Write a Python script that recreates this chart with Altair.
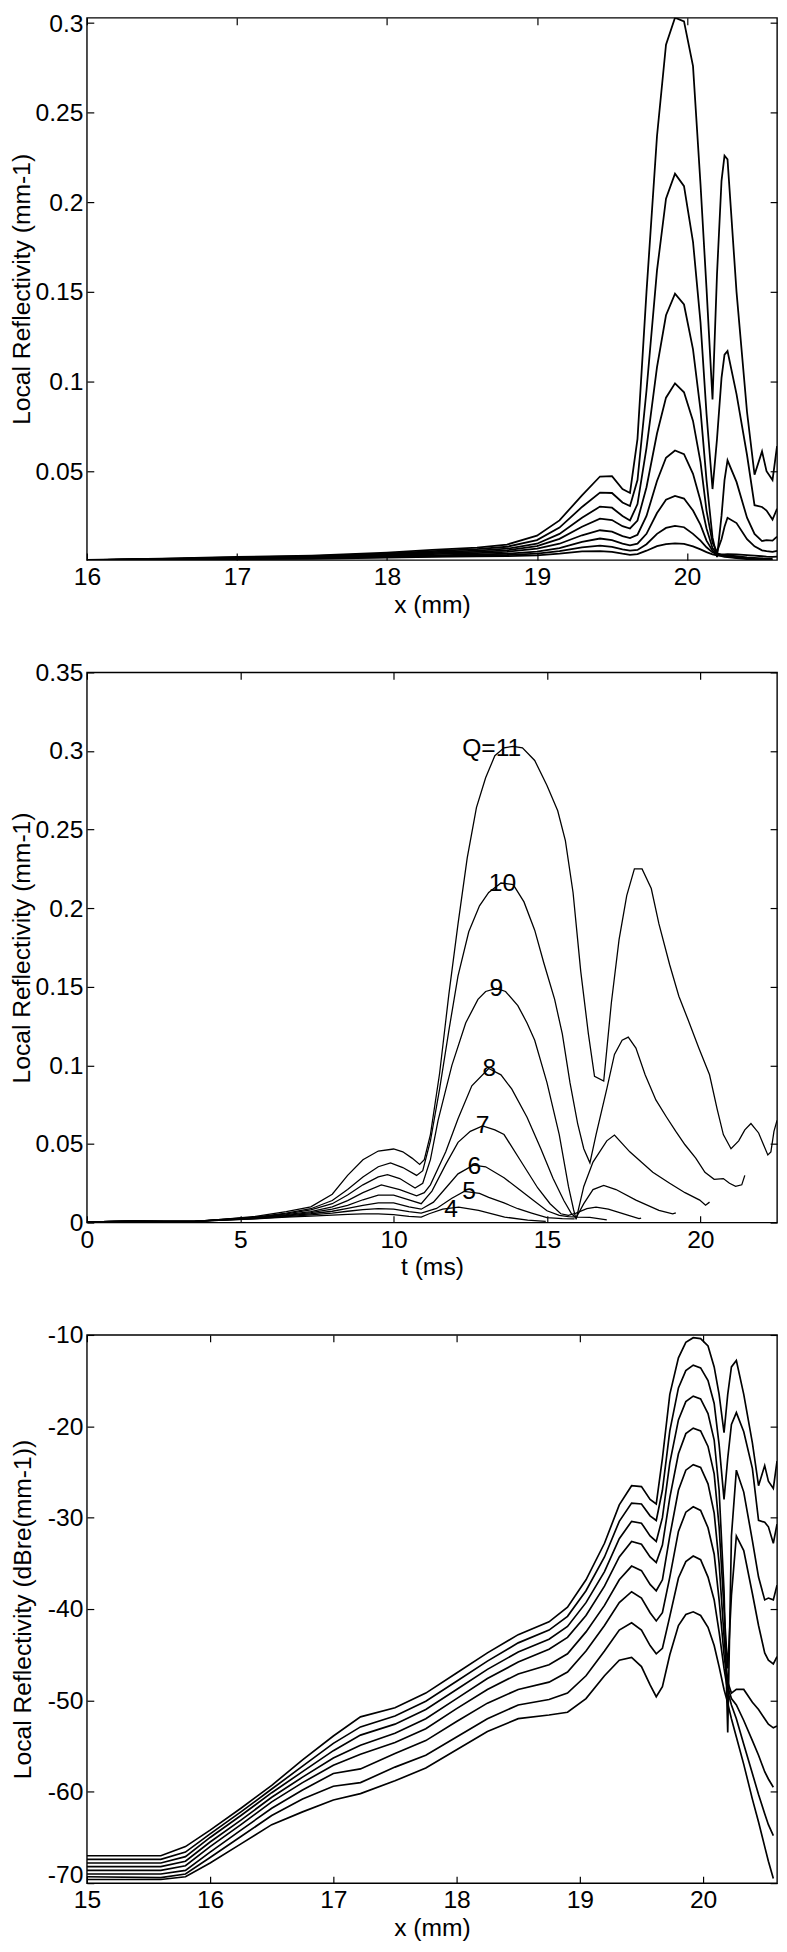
import altair as alt
import pandas as pd

FONT = "Liberation Sans"
FS = 25

# ---------------- Panel 1: linear reflectivity vs x (mm) ----------------
x1 = [16.0, 16.5, 17.0, 17.5, 18.0, 18.3, 18.6, 18.8, 19.0, 19.15, 19.3, 19.42, 19.5, 19.57,
      19.62, 19.67, 19.73, 19.8, 19.86, 19.92, 19.98, 20.04, 20.09, 20.13, 20.17, 20.2, 20.23,
      20.25, 20.27, 20.33, 20.4, 20.45, 20.5, 20.53, 20.57, 20.6]
p1_q11 = [0.0005, 0.0011, 0.0021, 0.0029, 0.0045, 0.0060, 0.0073, 0.0090, 0.0140, 0.0225, 0.0365,
          0.0470, 0.0472, 0.0400, 0.0378, 0.0680, 0.150, 0.237, 0.288, 0.303, 0.301, 0.276, 0.210,
          0.152, 0.090, 0.160, 0.212, 0.226, 0.224, 0.150, 0.083, 0.048, 0.061, 0.050, 0.045, 0.064]
p1_q10 = [0.0004, 0.0010, 0.0018, 0.0026, 0.0040, 0.0054, 0.0065, 0.0078, 0.0115, 0.0185, 0.0300,
          0.0380, 0.0378, 0.0325, 0.0305, 0.0450, 0.095, 0.162, 0.202, 0.216, 0.209, 0.178, 0.133,
          0.082, 0.040, 0.068, 0.102, 0.115, 0.117, 0.093, 0.059, 0.031, 0.030, 0.028, 0.023, 0.029]
p1_q9 = [0.0004, 0.0009, 0.0016, 0.0023, 0.0036, 0.0048, 0.0057, 0.0067, 0.0095, 0.0150, 0.0240,
         0.0302, 0.0296, 0.0250, 0.0225, 0.0316, 0.063, 0.108, 0.137, 0.149, 0.143, 0.118, 0.084,
         0.045, 0.013, 0.002, 0.025, 0.045, 0.056, 0.044, 0.024, 0.015, 0.011, 0.0115, 0.0112, 0.0135]
p1_q8 = [0.0004, 0.0009, 0.0015, 0.0021, 0.0032, 0.0043, 0.0050, 0.0058, 0.0081, 0.0122, 0.0190,
         0.0235, 0.0227, 0.0193, 0.0180, 0.0224, 0.041, 0.071, 0.091, 0.099, 0.094, 0.078, 0.055,
         0.028, 0.010, 0.005, 0.012, 0.019, 0.024, 0.021, 0.012, 0.008, 0.0058, 0.0053, 0.005, 0.0055]
p1_q7 = [0.0003, 0.0009, 0.0014, 0.0019, 0.0029, 0.0037, 0.0043, 0.0050, 0.0067, 0.0095, 0.0142,
         0.0170, 0.0162, 0.0137, 0.0126, 0.0145, 0.025, 0.0445, 0.0575, 0.0615, 0.0595, 0.0485,
         0.0335, 0.018, 0.007, 0.004, 0.0035, 0.0036, 0.0037, 0.0036, 0.0031, 0.0028, 0.0025,
         0.0023, 0.0022, 0.0023]
p1_q6 = [0.0003, 0.0008, 0.0013, 0.0016, 0.0024, 0.0030, 0.0035, 0.0039, 0.0051, 0.0070, 0.0105,
         0.0124, 0.0115, 0.0096, 0.0086, 0.0095, 0.015, 0.0266, 0.0340, 0.0362, 0.0347, 0.0280,
         0.0200, 0.0112, 0.0056, 0.0038, 0.0032, 0.0030, 0.0030, 0.0025, 0.0019, 0.0016, 0.0013,
         0.0012, 0.0011, None]
p1_q5 = [0.0003, 0.0007, 0.0011, 0.0014, 0.0020, 0.0025, 0.0030, 0.0032, 0.0040, 0.0053, 0.0075,
         0.0084, 0.0077, 0.0063, 0.0057, 0.0060, 0.0092, 0.0150, 0.0183, 0.0195, 0.0187, 0.0150,
         0.0112, 0.0075, 0.0047, 0.0035, 0.0030, 0.0027, 0.0025, 0.0018, 0.0013, 0.0010, 0.0008,
         0.0007, 0.0006, None]
p1_q4 = [0.0003, 0.0006, 0.0009, 0.0011, 0.0017, 0.0021, 0.0025, 0.0026, 0.0030, 0.0039, 0.0052,
         0.0054, 0.0049, 0.0039, 0.0033, 0.0037, 0.0056, 0.0081, 0.0093, 0.0097, 0.0094, 0.0080,
         0.0063, 0.0048, 0.0036, 0.0030, 0.0025, 0.0022, 0.0020, 0.0014, 0.0009, 0.0007, 0.0005,
         0.0004, 0.0003, None]

# ---------------- Panel 2: linear reflectivity vs t (ms), one time base per curve ----------------
p2_t11 = [0, 1.5, 2.5, 3.5, 4.5, 5.5, 6.5, 7.3, 8.0, 8.5, 9.0, 9.5, 10.0, 10.3, 10.6, 10.85, 11.0,
          11.2, 11.5, 11.8, 12.1, 12.4, 12.7, 13.0, 13.3, 13.6, 13.9, 14.2, 14.6, 15.0, 15.35, 15.6,
          15.85, 16.1, 16.35, 16.55, 16.85, 17.1, 17.35, 17.6, 17.85, 18.1, 18.4, 18.65, 19.0, 19.3,
          19.6, 19.95, 20.3, 20.55, 20.75, 21.0, 21.25, 21.45, 21.65, 21.9, 22.05, 22.2, 22.3, 22.4, 22.5]
p2_v11 = [0.0005, 0.0009, 0.0007, 0.0008, 0.0022, 0.004, 0.007, 0.010, 0.018, 0.030, 0.040, 0.0455,
          0.0468, 0.045, 0.041, 0.037, 0.040, 0.056, 0.095, 0.145, 0.19, 0.232, 0.264, 0.283, 0.297,
          0.302, 0.303, 0.302, 0.294, 0.278, 0.262, 0.243, 0.21, 0.16, 0.12, 0.093, 0.090, 0.14, 0.18,
          0.208, 0.225, 0.225, 0.2125, 0.19, 0.164, 0.144, 0.129, 0.111, 0.094, 0.072, 0.056, 0.047,
          0.052, 0.059, 0.063, 0.057, 0.050, 0.043, 0.045, 0.058, 0.065]
p2_t10 = [0, 1.5, 2.5, 3.5, 4.5, 5.5, 6.5, 7.3, 8.0, 8.5, 9.0, 9.5, 9.9, 10.3, 10.75, 10.95, 11.2,
          11.5, 11.8, 12.1, 12.45, 12.8, 13.1, 13.5, 13.9, 14.25, 14.6, 14.9, 15.25, 15.5, 15.75, 16.0,
          16.2, 16.4, 16.6, 16.95, 17.2, 17.45, 17.65, 17.9, 18.2, 18.55, 18.9, 19.2, 19.5, 19.85,
          20.15, 20.45, 20.75, 20.95, 21.15, 21.35, 21.45]
p2_v10 = [0.0005, 0.0009, 0.0007, 0.0008, 0.0021, 0.0035, 0.006, 0.0088, 0.014, 0.021, 0.029, 0.0355,
          0.038, 0.035, 0.030, 0.033, 0.052, 0.085, 0.122, 0.157, 0.185, 0.2015, 0.21, 0.216, 0.215,
          0.204, 0.186, 0.165, 0.142, 0.12, 0.089, 0.063, 0.047, 0.038, 0.056, 0.085, 0.107, 0.116,
          0.118, 0.111, 0.094, 0.078, 0.067, 0.058, 0.0495, 0.041, 0.032, 0.0275, 0.028, 0.025, 0.023,
          0.024, 0.030]
p2_t9 = [0, 1.5, 2.5, 3.5, 4.5, 5.5, 6.5, 7.3, 8.0, 8.5, 9.0, 9.5, 9.8, 10.2, 10.7, 10.95, 11.2, 11.45,
         11.9, 12.35, 12.75, 13.0, 13.35, 13.65, 14.05, 14.35, 14.6, 15.0, 15.4, 15.7, 15.87, 15.95,
         16.2, 16.5, 16.95, 17.2, 17.7, 18.45, 19.0, 19.5, 19.98, 20.17, 20.3]
p2_v9 = [0.0005, 0.0009, 0.0007, 0.0008, 0.002, 0.0033, 0.0055, 0.008, 0.012, 0.0175, 0.024, 0.029,
         0.0305, 0.028, 0.022, 0.025, 0.040, 0.065, 0.100, 0.127, 0.142, 0.147, 0.149, 0.147, 0.138,
         0.127, 0.116, 0.089, 0.056, 0.023, 0.008, 0.002, 0.023, 0.0385, 0.052, 0.0557, 0.045, 0.032,
         0.025, 0.019, 0.0143, 0.011, 0.013]
p2_t8 = [0, 1.5, 2.5, 3.5, 4.5, 5.5, 6.5, 7.3, 8.0, 8.5, 9.0, 9.6, 10.2, 10.75, 11.0, 11.2, 11.7, 12.1,
         12.55, 13.1, 13.5, 13.85, 14.35, 14.8, 15.2, 15.55, 15.8, 15.95, 16.2, 16.5, 16.85, 17.25,
         17.9, 18.65, 19.1, 19.2]
p2_v8 = [0.0005, 0.0009, 0.0007, 0.0008, 0.0019, 0.0031, 0.005, 0.007, 0.010, 0.014, 0.019, 0.024,
         0.021, 0.017, 0.019, 0.024, 0.045, 0.066, 0.087, 0.098, 0.094, 0.085, 0.067, 0.047, 0.028,
         0.014, 0.0055, 0.003, 0.012, 0.021, 0.0236, 0.021, 0.0143, 0.0077, 0.0055, 0.0062]
p2_t7 = [0, 1.5, 2.5, 3.5, 4.5, 5.5, 6.5, 7.3, 8.0, 8.5, 9.0, 9.5, 10.0, 10.5, 10.9, 11.25, 11.7,
         12.1, 12.5, 12.9, 13.3, 13.6, 14.15, 14.7, 15.1, 15.45, 15.7, 15.95, 16.3, 16.6, 17.0, 17.5,
         18.0, 18.07]
p2_v7 = [0.0005, 0.0009, 0.0007, 0.0008, 0.0018, 0.0029, 0.0046, 0.0063, 0.0085, 0.011, 0.0145,
         0.0175, 0.0175, 0.0145, 0.012, 0.020, 0.037, 0.051, 0.058, 0.0615, 0.059, 0.056, 0.039,
         0.022, 0.012, 0.0056, 0.0046, 0.006, 0.0088, 0.0098, 0.0085, 0.0055, 0.0025, 0.0028]
p2_t6 = [0, 1.5, 2.5, 3.5, 4.5, 5.5, 6.5, 7.3, 8.0, 8.5, 9.0, 9.5, 10.0, 10.5, 10.9, 11.3, 11.7, 12.1,
         12.6, 13.0, 13.6, 14.1, 14.5, 15.0, 15.4, 15.7, 16.0, 16.4, 16.95]
p2_v6 = [0.0005, 0.0009, 0.0007, 0.0008, 0.0017, 0.0027, 0.0042, 0.0056, 0.0072, 0.009, 0.011,
         0.0125, 0.0125, 0.010, 0.0085, 0.013, 0.022, 0.031, 0.0365, 0.0355, 0.0285, 0.021, 0.015,
         0.0075, 0.0046, 0.0038, 0.0035, 0.0033, 0.0017]
p2_t5 = [0, 1.5, 2.5, 3.5, 4.5, 5.5, 6.5, 7.3, 8.0, 8.5, 9.0, 9.5, 10.0, 10.5, 10.9, 11.4, 11.9, 12.3,
         12.8, 13.1, 13.6, 14.05, 14.5, 15.0, 15.5, 15.9]
p2_v5 = [0.0005, 0.0009, 0.0007, 0.0008, 0.0016, 0.0025, 0.0038, 0.0049, 0.006, 0.0072, 0.0082,
         0.0088, 0.0085, 0.007, 0.006, 0.009, 0.0155, 0.0198, 0.0185, 0.016, 0.0125, 0.0088, 0.006,
         0.0031, 0.0025, 0.0024]
p2_t4 = [0, 1.5, 2.5, 3.5, 4.5, 5.5, 6.5, 7.3, 8.0, 8.5, 9.0, 9.5, 10.0, 10.5, 10.9, 11.16, 11.6,
         12.12, 12.77, 13.62, 14.37, 14.96]
p2_v4 = [0.0005, 0.0009, 0.0007, 0.0008, 0.0015, 0.0023, 0.0034, 0.0041, 0.0048, 0.0052, 0.0055,
         0.0055, 0.005, 0.004, 0.0035, 0.0056, 0.0085, 0.0098, 0.0077, 0.0035, 0.0015, 0.0008]

lbl_text = ["Q=11", "10", "9", "8", "7", "6", "5", "4"]
lbl_t = [13.2, 13.55, 13.35, 13.12, 12.9, 12.63, 12.46, 11.87]
lbl_v = [0.302, 0.216, 0.149, 0.098, 0.062, 0.036, 0.020, 0.0088]

# ---------------- Panel 3: reflectivity in dB vs x (mm) ----------------
x3 = [15.0, 15.6, 15.8, 16.0, 16.25, 16.5, 16.75, 17.0, 17.22, 17.5, 17.75, 18.0, 18.25, 18.5, 18.75,
      18.9, 19.05, 19.2, 19.32, 19.42, 19.5, 19.57, 19.62, 19.67, 19.73, 19.8, 19.86, 19.92, 19.98,
      20.04, 20.09, 20.13, 20.17, 20.2, 20.23, 20.27, 20.33, 20.4, 20.45, 20.5, 20.53, 20.57, 20.6]
p3_q11 = [-67.0, -67.0, -66.0, -64.2, -61.8, -59.3, -56.5, -53.9, -51.8, -50.8, -49.2, -47.0, -44.8,
          -42.8, -41.4, -39.8, -36.8, -32.8, -28.6, -26.5, -26.6, -28.0, -28.5, -23.5, -16.5, -12.5,
          -10.8, -10.3, -10.4, -11.2, -13.5, -16.5, -20.7, -16.5, -13.5, -12.8, -16.5, -21.8, -26.5,
          -24.3, -26.0, -26.8, -23.8]
p3_q10 = [-67.4, -67.4, -66.6, -64.6, -62.2, -59.7, -57.2, -54.7, -52.9, -51.7, -50.1, -47.9, -45.7,
          -43.7, -42.3, -40.8, -38.0, -34.3, -30.4, -28.4, -28.5, -29.8, -30.3, -27.0, -20.5, -15.8,
          -13.9, -13.3, -13.6, -15.0, -17.5, -22.0, -28.0, -23.5, -19.8, -18.5, -20.6, -24.6, -30.3,
          -30.5, -31.0, -32.8, -30.7]
p3_q9 = [-67.8, -67.8, -67.1, -65.0, -62.6, -60.1, -57.8, -55.5, -53.8, -52.6, -51.0, -48.8, -46.6,
         -44.7, -43.3, -41.9, -39.3, -35.9, -32.3, -30.4, -30.6, -32.0, -32.6, -30.0, -24.0, -19.3,
         -17.3, -16.7, -17.0, -18.6, -21.5, -27.0, -38.0, -53.5, -32.0, -24.8, -27.2, -32.5, -36.5,
         -39.0, -38.8, -39.0, -37.4]
p3_q8 = [-68.2, -68.2, -67.6, -65.5, -63.1, -60.6, -58.4, -56.3, -54.9, -53.6, -52.0, -49.8, -47.6,
         -45.8, -44.4, -43.1, -40.7, -37.5, -34.3, -32.6, -32.9, -34.3, -34.9, -33.0, -27.8, -23.0,
         -20.8, -20.2, -20.5, -22.2, -25.2, -31.0, -40.0, -46.5, -38.5, -32.0, -33.6, -38.3, -41.8,
         -44.8, -45.6, -46.0, -45.2]
p3_q7 = [-68.6, -68.6, -68.1, -66.0, -63.6, -61.1, -59.0, -57.1, -55.9, -54.6, -53.1, -50.9, -48.8,
         -47.1, -46.1, -44.9, -42.5, -39.6, -36.8, -35.3, -35.8, -37.3, -38.0, -36.8, -32.0, -27.0,
         -24.8, -24.2, -24.5, -26.3, -29.5, -35.0, -43.0, -48.0, -49.2, -48.8, -48.8, -50.2, -51.0,
         -52.0, -52.6, -53.0, -52.8]
p3_q6 = [-69.0, -69.0, -68.6, -66.6, -64.2, -61.8, -59.8, -58.0, -57.5, -55.8, -54.4, -52.3, -50.3,
         -48.8, -48.0, -46.9, -44.6, -41.8, -39.3, -38.1, -38.8, -40.4, -41.3, -40.4, -36.5, -31.5,
         -29.4, -28.8, -29.2, -31.1, -34.0, -39.0, -45.0, -48.5, -49.8, -50.5, -52.2, -54.4, -56.0,
         -57.8, -58.6, -59.5, None]
p3_q5 = [-69.3, -69.4, -69.0, -67.2, -64.9, -62.6, -60.8, -59.4, -59.0, -57.3, -56.0, -54.0, -52.0,
         -50.5, -49.9, -49.2, -47.3, -44.6, -42.3, -41.5, -42.3, -44.0, -44.9, -44.3, -40.8, -36.6,
         -34.8, -34.2, -34.6, -36.5, -39.0, -42.5, -46.5, -49.0, -50.5, -52.0, -54.8, -58.0, -60.3,
         -62.4, -63.6, -64.8, None]
p3_q4 = [-69.6, -69.6, -69.3, -67.8, -65.7, -63.6, -62.2, -60.9, -60.2, -58.8, -57.4, -55.4, -53.4,
         -52.0, -51.6, -51.3, -49.8, -47.3, -45.6, -45.3, -46.3, -48.3, -49.6, -48.5, -45.0, -41.8,
         -40.6, -40.3, -40.7, -42.0, -44.0, -46.3, -48.8, -50.3, -52.0, -54.0, -57.0, -60.8, -63.3,
         -66.0, -67.6, -69.5, None]

Q_NAMES = ["11", "10", "9", "8", "7", "6", "5", "4"]


def shared_grid_df(xs, curves):
    rows = []
    for q, vals in zip(Q_NAMES, curves):
        for x, v in zip(xs, vals):
            if v is not None:
                rows.append({"x": x, "v": v, "q": q})
    return pd.DataFrame(rows)


def own_grid_df(pairs):
    rows = []
    for q, (ts, vs) in zip(Q_NAMES, pairs):
        for t, v in zip(ts, vs):
            rows.append({"x": t, "v": v, "q": q})
    return pd.DataFrame(rows)


df1 = shared_grid_df(x1, [p1_q11, p1_q10, p1_q9, p1_q8, p1_q7, p1_q6, p1_q5, p1_q4])
df2 = own_grid_df([(p2_t11, p2_v11), (p2_t10, p2_v10), (p2_t9, p2_v9), (p2_t8, p2_v8),
                   (p2_t7, p2_v7), (p2_t6, p2_v6), (p2_t5, p2_v5), (p2_t4, p2_v4)])
df3 = shared_grid_df(x3, [p3_q11, p3_q10, p3_q9, p3_q8, p3_q7, p3_q6, p3_q5, p3_q4])
dfl = pd.DataFrame({"t": lbl_t, "v": lbl_v, "s": lbl_text})

TICK = 7
W = 700


def x_axis(values, title):
    return alt.Axis(orient="bottom", values=values, title=title, offset=-TICK, tickSize=TICK,
                    domain=False, grid=False, labelPadding=5, titlePadding=3, labelFlush=False)


def y_axis(values, title, fmt=None, expr=None, tpad=1, bottom_nudge=None):
    kw = dict(orient="left", values=values, title=title, offset=-TICK, tickSize=TICK,
              domain=False, grid=False, labelPadding=4, titlePadding=tpad)
    if fmt:
        kw["format"] = fmt
    if expr:
        kw["labelExpr"] = expr
    if bottom_nudge is not None:
        # lift the lowest y label a little so it clears the first x label below it
        kw["labelOffset"] = alt.condition(f"datum.value == {bottom_nudge}",
                                          alt.value(-9), alt.value(0))
    return alt.Axis(**kw)


def far_tick_axis(orient, values, shift):
    # a bottom/left axis pushed to the opposite edge: ticks point inward, no labels
    return alt.Axis(orient=orient, values=values, title=None, labels=False, offset=-shift,
                    tickSize=TICK, domain=False, grid=False, minExtent=0, maxExtent=0)


def panel(df, xdom, ydom, xvals, yvals, xtitle, ytitle, height, sw, yfmt=None, yexpr=None,
          labels=None, tpad=1, bottom_nudge=None):
    xs = alt.Scale(domain=xdom, nice=False, zero=False)
    ys = alt.Scale(domain=ydom, nice=False, zero=False)
    lines = alt.Chart(df).mark_line(color="black", strokeWidth=sw, clip=True).encode(
        x=alt.X("x:Q", scale=xs, axis=x_axis(xvals, xtitle)),
        y=alt.Y("v:Q", scale=ys, axis=y_axis(yvals, ytitle, yfmt, yexpr, tpad, bottom_nudge)),
        detail="q:N",
    )
    ghost = alt.Chart(df).mark_point(opacity=0, clip=True).encode(
        x=alt.X("x:Q", scale=xs, axis=far_tick_axis("bottom", xvals, height)),
        y=alt.Y("v:Q", scale=ys, axis=far_tick_axis("left", yvals, W)),
    )
    layers = [lines, ghost]
    if labels is not None:
        txt = alt.Chart(labels).mark_text(font=FONT, fontSize=FS, color="black",
                                          align="center", baseline="middle").encode(
            x=alt.X("t:Q", scale=xs, axis=None),
            y=alt.Y("v:Q", scale=ys, axis=None),
            text="s:N",
        )
        layers.append(txt)
    return alt.layer(*layers).resolve_axis(x="independent", y="independent").properties(
        width=W, height=height)


p1 = panel(df1, [16, 20.6], [0.0004, 0.303], [16, 17, 18, 19, 20],
           [0.05, 0.1, 0.15, 0.2, 0.25, 0.3], "x (mm)", "Local Reflectivity (mm-1)",
           550, 1.8, yfmt=".2~f")
p2 = panel(df2, [0, 22.5], [0, 0.35], [0, 5, 10, 15, 20],
           [0, 0.05, 0.1, 0.15, 0.2, 0.25, 0.3, 0.35], "t (ms)", "Local Reflectivity (mm-1)",
           558, 1.3, yfmt=".2~f", labels=dfl)
p3 = panel(df3, [15, 20.6], [-70, -10], [15, 16, 17, 18, 19, 20],
           [-70, -60, -50, -40, -30, -20, -10], "x (mm)", "Local Reflectivity (dBre(mm-1))",
           556, 1.7, yexpr="'' + datum.value", tpad=12, bottom_nudge=-70)

chart = alt.vconcat(p1, p2, p3, spacing=42).properties(
    padding={"left": 0, "top": -12, "right": 0, "bottom": 0},
    background="white",
).configure_view(
    stroke="black", strokeWidth=1.4
).configure_axis(
    labelFont=FONT, titleFont=FONT, labelFontSize=FS, titleFontSize=FS,
    titleFontWeight="normal", labelColor="black", titleColor="black",
    tickColor="black", tickWidth=1.2,
)

chart.save("out.html", embed_options={"renderer": "svg", "actions": False})
